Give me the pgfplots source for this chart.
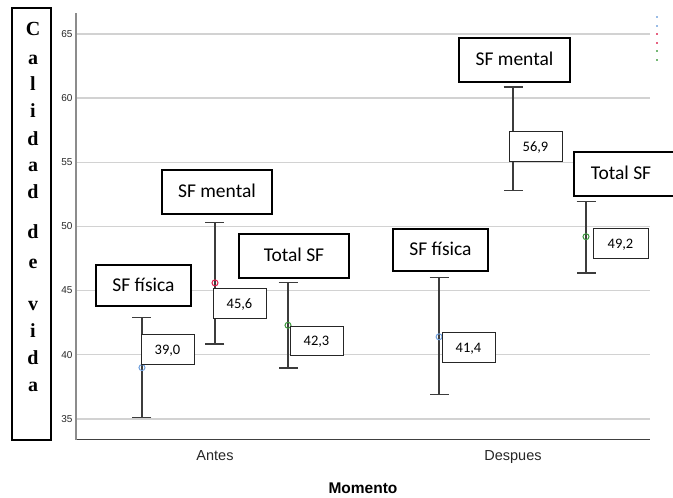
\documentclass[border=0pt]{standalone}
\usepackage{pgfplots}
\pgfplotsset{compat=1.18}
\usepackage{fontspec}
\setmainfont{Liberation Sans}
\newfontfamily\calibri{Carlito}
\newfontfamily\timesf{Liberation Serif}
\definecolor{sfblue}{HTML}{6F9FDC}
\definecolor{sfred}{HTML}{DC1F4B}
\definecolor{sfgreen}{HTML}{3C9A3C}
\definecolor{barc}{HTML}{3C3C3C}
\definecolor{gridc}{HTML}{D2D2D2}
\tikzset{
  bigbox/.style={draw=black, line width=1.8pt, fill=white},
  smallbox/.style={draw=black!85, line width=1pt, fill=white},
  bigtxt/.style={font=\calibri\fontsize{19.5}{22}\selectfont, anchor=base, inner sep=0pt},
  smalltxt/.style={font=\calibri\fontsize{14.5}{17}\selectfont, anchor=base, inner sep=0pt},
  ylet/.style={font=\timesf\bfseries\fontsize{20}{22}\selectfont, anchor=base, inner sep=0pt},
}
\begin{document}
\begin{tikzpicture}
\useasboundingbox (0pt,0pt) rectangle (673pt,498pt);
\begin{axis}[
  at={(76pt,58pt)}, anchor=south west, scale only axis,
  width=574pt, height=427pt,
  xmin=0.5336, xmax=2.4597, ymin=33.36, ymax=66.63,
  axis lines*=left,
  x axis line style={color=black!75, line width=1pt},
  y axis line style={color=black!45, line width=1.5pt},
  major tick length=0pt,
  xtick={1,2}, xticklabels={Antes,Despues},
  ytick={35,40,...,65},
  ymajorgrids, grid style={color=gridc, line width=1.3pt},
  tick label style={font=\fontsize{10}{12}\selectfont, color=black!85},
  xticklabel style={font=\fontsize{14.5}{17}\selectfont, yshift=-7pt},
  /pgf/number format/assume math mode=true,
  clip=false,
]
% SF fisica
\addplot[only marks, mark=o, mark size=3pt, color=sfblue, mark options={line width=1pt},
  error bars/.cd, y dir=both, y explicit,
  error bar style={line width=1.3pt, color=barc},
  error mark options={rotate=90, line width=1.3pt, mark size=9.5pt, color=barc}]
  coordinates {(0.755,39.0) += (0,3.89) -= (0,3.90)
               (1.752,41.4) += (0,4.60) -= (0,4.50)};
% SF mental
\addplot[only marks, mark=o, mark size=3pt, color=sfred, mark options={line width=1pt},
  error bars/.cd, y dir=both, y explicit,
  error bar style={line width=1.3pt, color=barc},
  error mark options={rotate=90, line width=1.3pt, mark size=9.5pt, color=barc}]
  coordinates {(1.0,45.6) += (0,4.70) -= (0,4.77)
               (2.0,56.9) += (0,3.96) -= (0,4.09)};
% Total SF
\addplot[only marks, mark=o, mark size=3pt, color=sfgreen, mark options={line width=1pt},
  error bars/.cd, y dir=both, y explicit,
  error bar style={line width=1.3pt, color=barc},
  error mark options={rotate=90, line width=1.3pt, mark size=9.5pt, color=barc}]
  coordinates {(1.245,42.3) += (0,3.32) -= (0,3.33)
               (2.245,49.2) += (0,2.75) -= (0,2.82)};
% remnant legend dots
\addplot[only marks, mark=square*, mark size=0.8pt, color=sfblue!70] coordinates {(2.482,66.35) (2.482,65.65)};
\addplot[only marks, mark=square*, mark size=0.8pt, color=sfred!70] coordinates {(2.482,65.02) (2.482,64.32)};
\addplot[only marks, mark=square*, mark size=0.8pt, color=sfgreen!70] coordinates {(2.482,63.70) (2.482,63.00)};
\end{axis}
% annotation boxes
\draw[bigbox] (96pt,233pt) rectangle (191pt,192pt);
\node[bigtxt] at (143.5pt,206.5pt) {SF física};
\draw[smallbox] (141pt,163pt) rectangle (194pt,133pt);
\node[smalltxt] at (167.5pt,143.6pt) {39,0};
\draw[bigbox] (162pt,328pt) rectangle (272pt,284pt);
\node[bigtxt] at (217pt,300pt) {SF mental};
\draw[smallbox] (213pt,209pt) rectangle (266pt,179pt);
\node[smalltxt] at (239.5pt,189.6pt) {45,6};
\draw[bigbox] (239pt,264pt) rectangle (349pt,220pt);
\node[bigtxt] at (294pt,236pt) {Total SF};
\draw[smallbox] (290pt,171pt) rectangle (343pt,142pt);
\node[smalltxt] at (316.5pt,152.1pt) {42,3};
\draw[bigbox] (393pt,269pt) rectangle (488pt,227pt);
\node[bigtxt] at (440.5pt,242pt) {SF física};
\draw[smallbox] (442pt,165pt) rectangle (495pt,135pt);
\node[smalltxt] at (468.5pt,145.6pt) {41,4};
\draw[bigbox] (459pt,460pt) rectangle (570pt,416pt);
\node[bigtxt] at (514.5pt,432pt) {SF mental};
\draw[smallbox] (509pt,366pt) rectangle (562pt,336pt);
\node[smalltxt] at (535.5pt,346.6pt) {56,9};
\draw[bigbox] (574pt,346pt) rectangle (673.5pt,302pt);
\node[bigtxt] at (621pt,318pt) {Total SF};
\draw[smallbox] (593pt,269pt) rectangle (648pt,239pt);
\node[smalltxt] at (620.5pt,249.6pt) {49,2};
% y label box
\draw[line width=1.2pt] (12pt,490pt) rectangle (51pt,58pt);
\node[ylet] at (33pt,462pt) {C};
\node[ylet] at (33pt,433pt) {a};
\node[ylet] at (33pt,407pt) {l};
\node[ylet] at (33pt,380pt) {i};
\node[ylet] at (33pt,352pt) {d};
\node[ylet] at (33pt,326pt) {a};
\node[ylet] at (33pt,299pt) {d};
\node[ylet] at (33pt,259pt) {d};
\node[ylet] at (33pt,229pt) {e};
\node[ylet] at (33pt,187pt) {v};
\node[ylet] at (33pt,160pt) {i};
\node[ylet] at (33pt,133pt) {d};
\node[ylet] at (33pt,106pt) {a};
% x label
\node[font=\bfseries\fontsize{15.5}{18}\selectfont] at (363pt,10pt) {Momento};
\end{tikzpicture}
\end{document}
